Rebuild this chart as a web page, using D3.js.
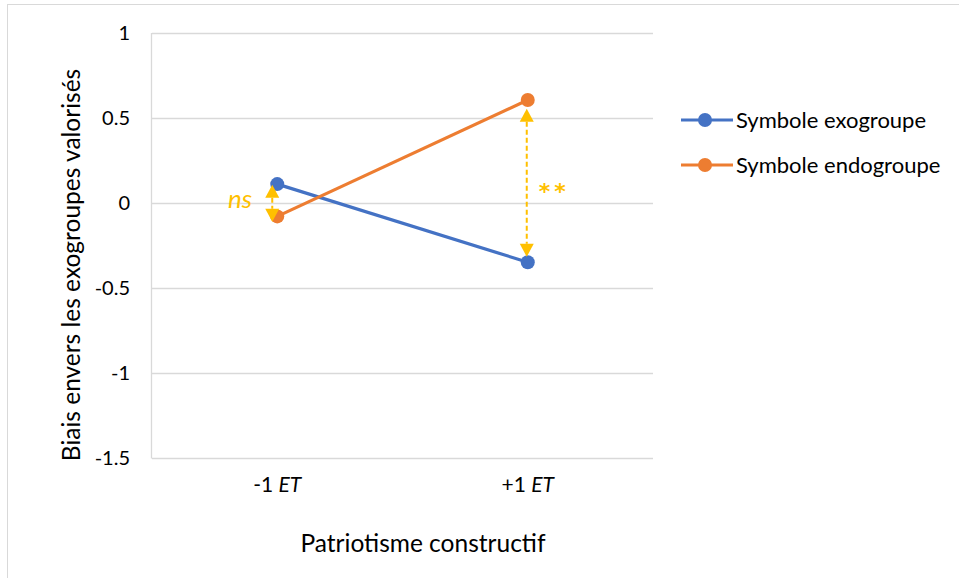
<!DOCTYPE html>
<html><head><meta charset="utf-8">
<script src="https://cdn.jsdelivr.net/npm/d3@7"></script>
<style>body{margin:0;background:#fff;} svg{display:block;}</style>
</head><body>
<svg id="c" width="959" height="578"></svg>
<script>
const categories = ["-1", "+1"];
const categorySuffix = "ET";
const seriesNames = ["Symbole exogroupe", "Symbole endogroupe"];
const exoValues = [0.11, -0.35];
const endoValues = [-0.08, 0.605];
const yTicks = [1, 0.5, 0, -0.5, -1, -1.5];
const annotations = [
  {cat: "-1", from: 0.106, to: -0.112, label: "ns"},
  {cat: "+1", from: 0.554, to: -0.318, label: "**"}
];
const colors = ["#4472C4", "#ED7D31"];
const annColor = "#FFC000";
const font = "Lato, 'Open Sans', sans-serif";

const svg = d3.select("#c");
svg.append("rect").attr("x", 7.5).attr("y", 4.5).attr("width", 1000).attr("height", 1000)
  .attr("fill", "#fff").attr("stroke", "#d9d9d9").attr("stroke-width", 1);

const L = 152, R = 653, T = 33, B = 457.5;
const x = d3.scaleBand().domain(categories).range([L, R]);
const y = d3.scaleLinear().domain([-1.5, 1]).range([B, T]);
const cx = c => x(c) + x.bandwidth() / 2;

// gridlines
svg.append("g").selectAll("line").data(yTicks).join("line")
  .attr("x1", L).attr("x2", R).attr("y1", d => Math.round(y(d)) + 0.5).attr("y2", d => Math.round(y(d)) + 0.5)
  .attr("stroke", "#d9d9d9").attr("stroke-width", 1.3);
svg.append("line").attr("x1", L - 0.5).attr("x2", L - 0.5).attr("y1", T).attr("y2", B + 1)
  .attr("stroke", "#d9d9d9").attr("stroke-width", 1.3);

// y tick labels
svg.append("g").selectAll("text").data(yTicks).join("text")
  .attr("x", 130).attr("y", d => y(d)).attr("dy", "0.35em").attr("text-anchor", "end")
  .attr("font-family", font).attr("font-size", 20).attr("fill", "#000")
  .text(d => d3.format("")(d).replace("−", "-"));

// x tick labels
const xt = svg.append("g").selectAll("text").data(categories).join("text")
  .attr("x", c => cx(c)).attr("y", 492).attr("text-anchor", "middle")
  .attr("font-family", font).attr("font-size", 21).attr("fill", "#000");
xt.append("tspan").text(c => c + " ");
xt.append("tspan").attr("font-style", "italic").text(categorySuffix);

// axis titles
svg.append("text").attr("x", 423).attr("y", 552).attr("text-anchor", "middle")
  .attr("font-family", font).attr("font-size", 24.5).attr("fill", "#000").text("Patriotisme constructif");
svg.append("text").attr("transform", `translate(80,265) rotate(-90)`).attr("text-anchor", "middle")
  .attr("font-family", font).attr("font-size", 24.5).attr("fill", "#000").text("Biais envers les exogroupes valorisés");

// series
const series = [exoValues, endoValues];
const line = d3.line().x((d, i) => cx(categories[i])).y(d => y(d));
series.forEach((vals, si) => {
  svg.append("path").attr("d", line(vals)).attr("fill", "none")
    .attr("stroke", colors[si]).attr("stroke-width", 3.2);
});
series.forEach((vals, si) => {
  svg.append("g").selectAll("circle").data(vals).join("circle")
    .attr("cx", (d, i) => cx(categories[i])).attr("cy", d => y(d)).attr("r", 7)
    .attr("fill", colors[si]);
});

// annotations
const tri = 13, triW = 14;
const annDx = [-5, -1];
annotations.forEach((a, i) => {
  const ax = cx(a.cat) + annDx[i];
  const y1 = y(a.from), y2 = y(a.to);
  svg.append("line").attr("x1", ax).attr("x2", ax).attr("y1", y1 + tri).attr("y2", y2 - tri)
    .attr("stroke", annColor).attr("stroke-width", 2).attr("stroke-dasharray", "5,3");
  svg.append("path").attr("d", `M${ax},${y1} L${ax - triW / 2},${y1 + tri} L${ax + triW / 2},${y1 + tri} Z`).attr("fill", annColor);
  svg.append("path").attr("d", `M${ax},${y2} L${ax - triW / 2},${y2 - tri} L${ax + triW / 2},${y2 - tri} Z`).attr("fill", annColor);
  const t = svg.append("text").attr("fill", annColor);
  if (i === 0) {
    t.attr("x", ax - 20).attr("y", 208).attr("text-anchor", "end").attr("font-family", font)
      .attr("font-size", 26).attr("font-style", "italic").text(a.label);
  } else {
    t.attr("x", ax + 12).attr("y", 199).attr("text-anchor", "start").attr("font-family", "'DejaVu Sans', sans-serif")
      .attr("font-size", 22).attr("font-weight", "bold").attr("letter-spacing", 4).text(a.label);
  }
});

// legend
const lg = svg.append("g");
seriesNames.forEach((n, i) => {
  const ly = 120 + i * 45;
  lg.append("line").attr("x1", 681).attr("x2", 733).attr("y1", ly).attr("y2", ly)
    .attr("stroke", colors[i]).attr("stroke-width", 3.2);
  lg.append("circle").attr("cx", 705).attr("cy", ly).attr("r", 7).attr("fill", colors[i]);
  lg.append("text").attr("x", 736).attr("y", ly).attr("dy", "0.35em")
    .attr("font-family", font).attr("font-size", 22).attr("fill", "#000").text(n);
});
</script>
</body></html>
